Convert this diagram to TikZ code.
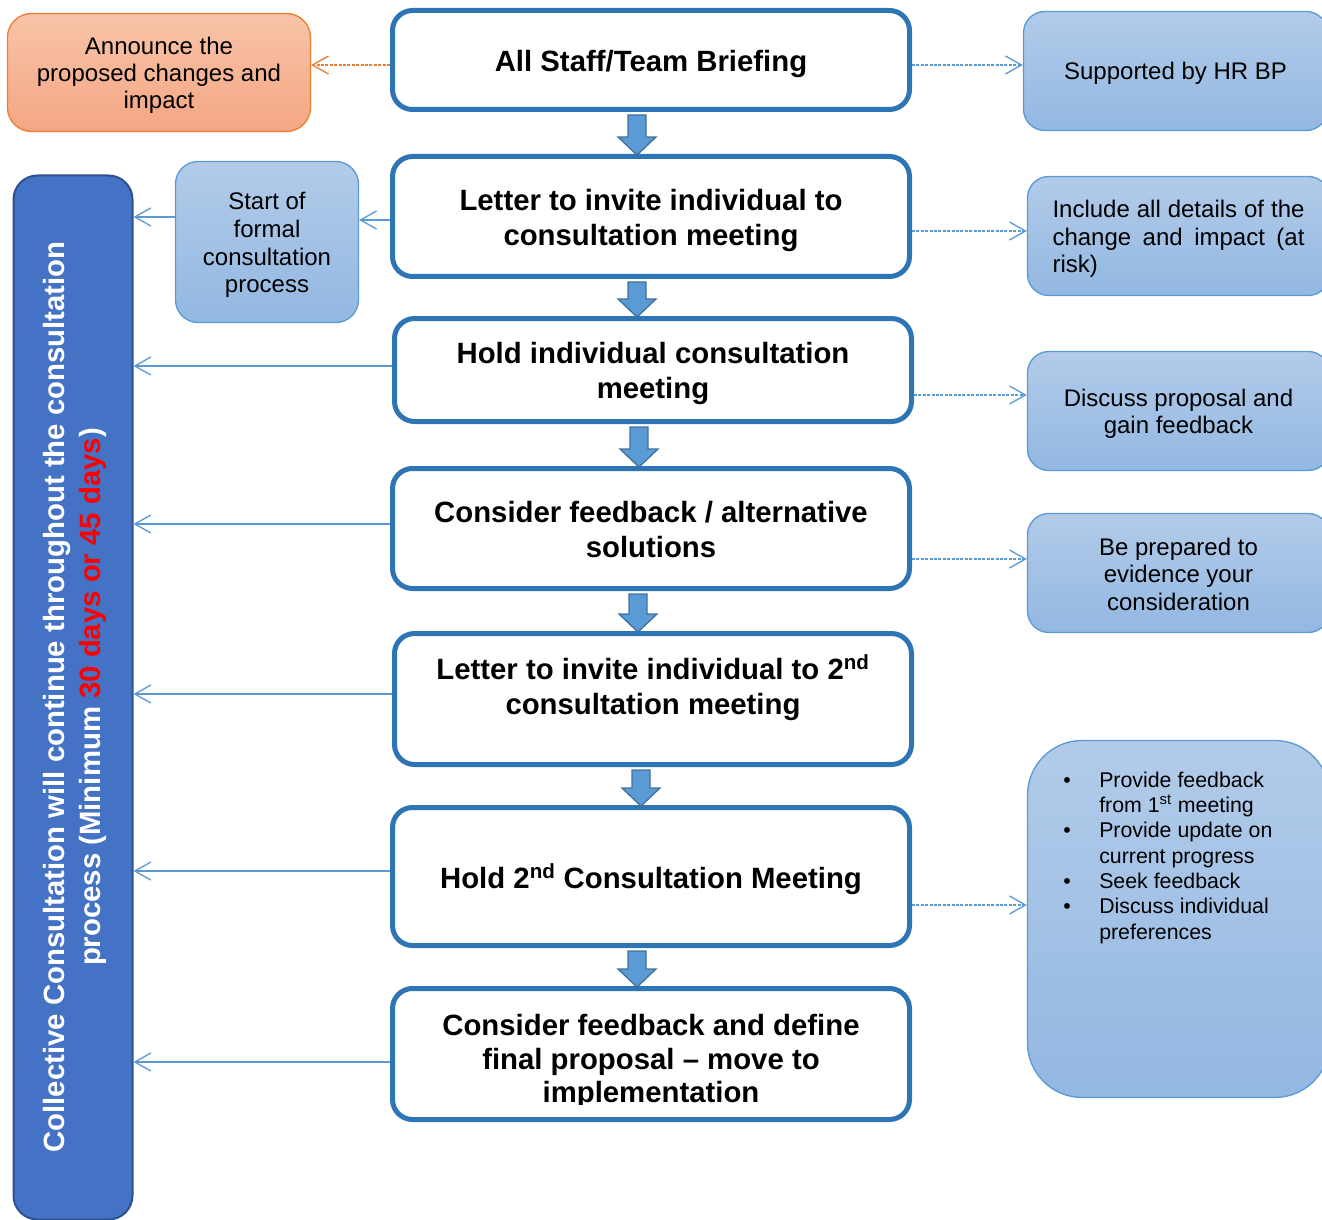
\documentclass[tikz,border=0pt]{standalone}
\usepackage{fontspec}
\setmainfont{Liberation Sans}
\usetikzlibrary{arrows.meta,calc}
\definecolor{mainblue}{HTML}{2E75B6}
\definecolor{accblue}{HTML}{5B9BD5}
\definecolor{arrowedge}{HTML}{41719C}
\definecolor{lighttop}{HTML}{B2CBE9}
\definecolor{lightbot}{HTML}{93B8E2}
\definecolor{orangeedge}{HTML}{ED7D31}
\definecolor{orangetop}{HTML}{F8C4A8}
\definecolor{orangebot}{HTML}{F4A683}
\definecolor{barfill}{HTML}{4472C4}
\definecolor{baredge}{HTML}{2F528F}
\definecolor{alertred}{HTML}{FF0000}

% thick block arrow between two stacked boxes: #1 upper node, #2 lower node, #3 x centre
\newcommand\blockdown[3]{%
  \path[blockarr] let \p1=(#1.south), \p2=(#2.north) in
    ({#3*0.75pt-6.75pt},{\y1-2.25pt}) -- ({#3*0.75pt+6.75pt},{\y1-2.25pt})
    -- ({#3*0.75pt+6.75pt},{\y2+12.75pt}) -- ({#3*0.75pt+14.25pt},{\y2+12.75pt})
    -- ({#3*0.75pt},{\y2-0.75pt}) -- ({#3*0.75pt-14.25pt},{\y2+12.75pt})
    -- ({#3*0.75pt-6.75pt},{\y2+12.75pt}) -- cycle;}

\begin{document}
\begin{tikzpicture}[x=0.75pt,y=-0.75pt,
  maintext/.style={align=center, inner sep=0pt, font=\fontsize{22}{26.25}\selectfont\bfseries},
  mainbox/.style={draw=mainblue, line width=3.75pt, fill=white, rounded corners=15pt, minimum width=387.75pt, inner sep=0pt},
  sidetext/.style={align=center, inner sep=0pt, font=\fontsize{18}{20.6}\selectfont},
  bluebox/.style={draw=accblue, line width=1pt, top color=lighttop, bottom color=lightbot, rounded corners=16pt, inner sep=0pt},
  orangebox/.style={draw=orangeedge, line width=1pt, top color=orangetop, bottom color=orangebot, rounded corners=18pt, inner sep=0pt},
  barbox/.style={draw=baredge, line width=1.5pt, fill=barfill, rounded corners=18pt, inner sep=0pt},
  thinarr/.style={draw=accblue, line width=1pt, -{Straight Barb[length=12pt,width=13.5pt]}},
  dasharr/.style={thinarr, dash pattern=on 2.2pt off 1.1pt},
  orangearr/.style={dasharr, draw=orangeedge},
  blockarr/.style={fill=accblue, draw=arrowedge, line width=1pt, line join=miter}
]
\useasboundingbox (0,0) rectangle (1322,1220);

% left bar
\node[barbox, minimum width=89.25pt, minimum height=783pt] (bar) at (73,697.5) {};
\node[rotate=90, text=white, align=center, inner sep=0pt, font=\fontsize{22}{27}\selectfont\bfseries] (bartext) at (75,697)
  {Collective Consultation will continue throughout the consultation\\process (Minimum \textcolor{alertred}{30 days or 45 days})};

% side boxes
\node[orangebox, minimum width=227.25pt, minimum height=88.5pt] (announce) at (159,72.5) {};
\node[sidetext, font=\fontsize{18}{20.25}\selectfont] (announcet) at (159,75.5) {Announce the\\proposed changes and\\impact};
\node[bluebox, rounded corners=17pt, minimum width=137.25pt, minimum height=120.75pt] (start) at (267,242) {};
\node[sidetext, font=\fontsize{18}{20.8}\selectfont] (startt) at (267,245) {Start of\\formal\\consultation\\process};

\node[bluebox, minimum width=228pt, minimum height=89.25pt] (r1) at (1175.5,71) {};
\node[sidetext] (r1t) at (1175.5,73) {Supported by HR BP};
\node[bluebox, minimum width=226.5pt, minimum height=89.25pt] (r2) at (1178.5,236) {};
\node[sidetext, align=left] (r2t) at (1178.5,239)
  {\makebox[189pt][s]{Include all details of the}\\\makebox[189pt][s]{change and impact (at}\\risk)};
\node[bluebox, minimum width=226.5pt, minimum height=89.25pt] (r3) at (1178.5,411) {};
\node[sidetext] (r3t) at (1178.5,414) {Discuss proposal and\\gain feedback};
\node[bluebox, minimum width=226.5pt, minimum height=89.25pt] (r4) at (1178.5,573) {};
\node[sidetext] (r4t) at (1178.5,574) {Be prepared to\\evidence your\\consideration};
\node[bluebox, rounded corners=41pt, minimum width=226.5pt, minimum height=267.75pt] (r5) at (1178.5,919) {};
\node[anchor=north west, inner sep=0pt, font=\fontsize{16}{19}\selectfont] (r5t) at (1063,769)
  {\begin{tabular}{@{}p{27pt}@{}l@{}}
   \textbullet & Provide feedback\\
               & from 1\textsuperscript{st} meeting\\
   \textbullet & Provide update on\\
               & current progress\\
   \textbullet & Seek feedback\\
   \textbullet & Discuss individual\\
               & preferences
   \end{tabular}};

% main flow
\node[mainbox, minimum height=74.25pt] (b1) at (651,60) {};
\node[maintext] (b1t) at (651,64) {All Staff/Team Briefing};
\node[mainbox, minimum height=90pt] (b2) at (651,216.5) {};
\node[maintext] (b2t) at (651,220.5) {Letter to invite individual to\\consultation meeting};
\node[mainbox, minimum height=77.25pt] (b3) at (653,370) {};
\node[maintext] (b3t) at (653,373) {Hold individual consultation\\meeting};
\node[mainbox, minimum height=90pt] (b4) at (651,528.5) {};
\node[maintext] (b4t) at (651,530) {Consider feedback / alternative\\solutions};
\node[mainbox, minimum height=98.25pt] (b5) at (653,699) {};
\node[maintext] (b5t) at (653,688) {Letter to invite individual to 2\textsuperscript{nd}\\consultation meeting};
\node[mainbox, minimum height=103.5pt] (b6) at (651,876.5) {};
\node[maintext] (b6t) at (651,879.5) {Hold 2\textsuperscript{nd} Consultation Meeting};
\node[mainbox, minimum height=98.25pt] (b7) at (651,1054) {};
\begin{scope}
  \clip (b7.north west) rectangle ($(b7.east)+(0,50)$);
  \node[maintext, font=\fontsize{22}{25.2}\selectfont\bfseries] (b7t) at (651,1061.5)
    {Consider feedback and define\\final proposal -- move to\\implementation};
\end{scope}

% connectors to the left
\coordinate (o1) at ($(b1.west)+(0,5)$);
\draw[orangearr] (o1) -- (o1 -| announce.east);
\coordinate (a2) at ($(b2.west)+(0,3.5)$);
\draw[thinarr] (a2) -- (a2 -| start.east);
\coordinate (as) at ($(start.west)+(0,-25)$);
\draw[thinarr] (as) -- (as -| bar.east);
\coordinate (a3) at ($(b3.west)+(0,-4)$);
\draw[thinarr] (a3) -- (a3 -| bar.east);
\coordinate (a4) at ($(b4.west)+(0,-4.5)$);
\draw[thinarr] (a4) -- (a4 -| bar.east);
\coordinate (a5) at ($(b5.west)+(0,-5)$);
\draw[thinarr] (a5) -- (a5 -| bar.east);
\coordinate (a6) at ($(b6.west)+(0,-5.5)$);
\draw[thinarr] (a6) -- (a6 -| bar.east);
\coordinate (a7) at ($(b7.west)+(0,8)$);
\draw[thinarr] (a7) -- (a7 -| bar.east);

% connectors to the right
\coordinate (c1) at ($(b1.east)+(0,5)$);
\draw[dasharr] (c1) -- (c1 -| r1.west);
\coordinate (c2) at ($(b2.east)+(0,14.5)$);
\draw[dasharr] (c2) -- (c2 -| r2.west);
\coordinate (c3) at ($(b3.east)+(0,25)$);
\draw[dasharr] (c3) -- (c3 -| r3.west);
\coordinate (c4) at ($(b4.east)+(0,30.5)$);
\draw[dasharr] (c4) -- (c4 -| r4.west);
\coordinate (c6) at ($(b6.east)+(0,28.5)$);
\draw[dasharr] (c6) -- (c6 -| r5.west);

% block arrows down the flow
\blockdown{b1}{b2}{637}
\blockdown{b2}{b3}{637}
\blockdown{b3}{b4}{639}
\blockdown{b4}{b5}{638}
\blockdown{b5}{b6}{641}
\blockdown{b6}{b7}{637}
\end{tikzpicture}
\end{document}
